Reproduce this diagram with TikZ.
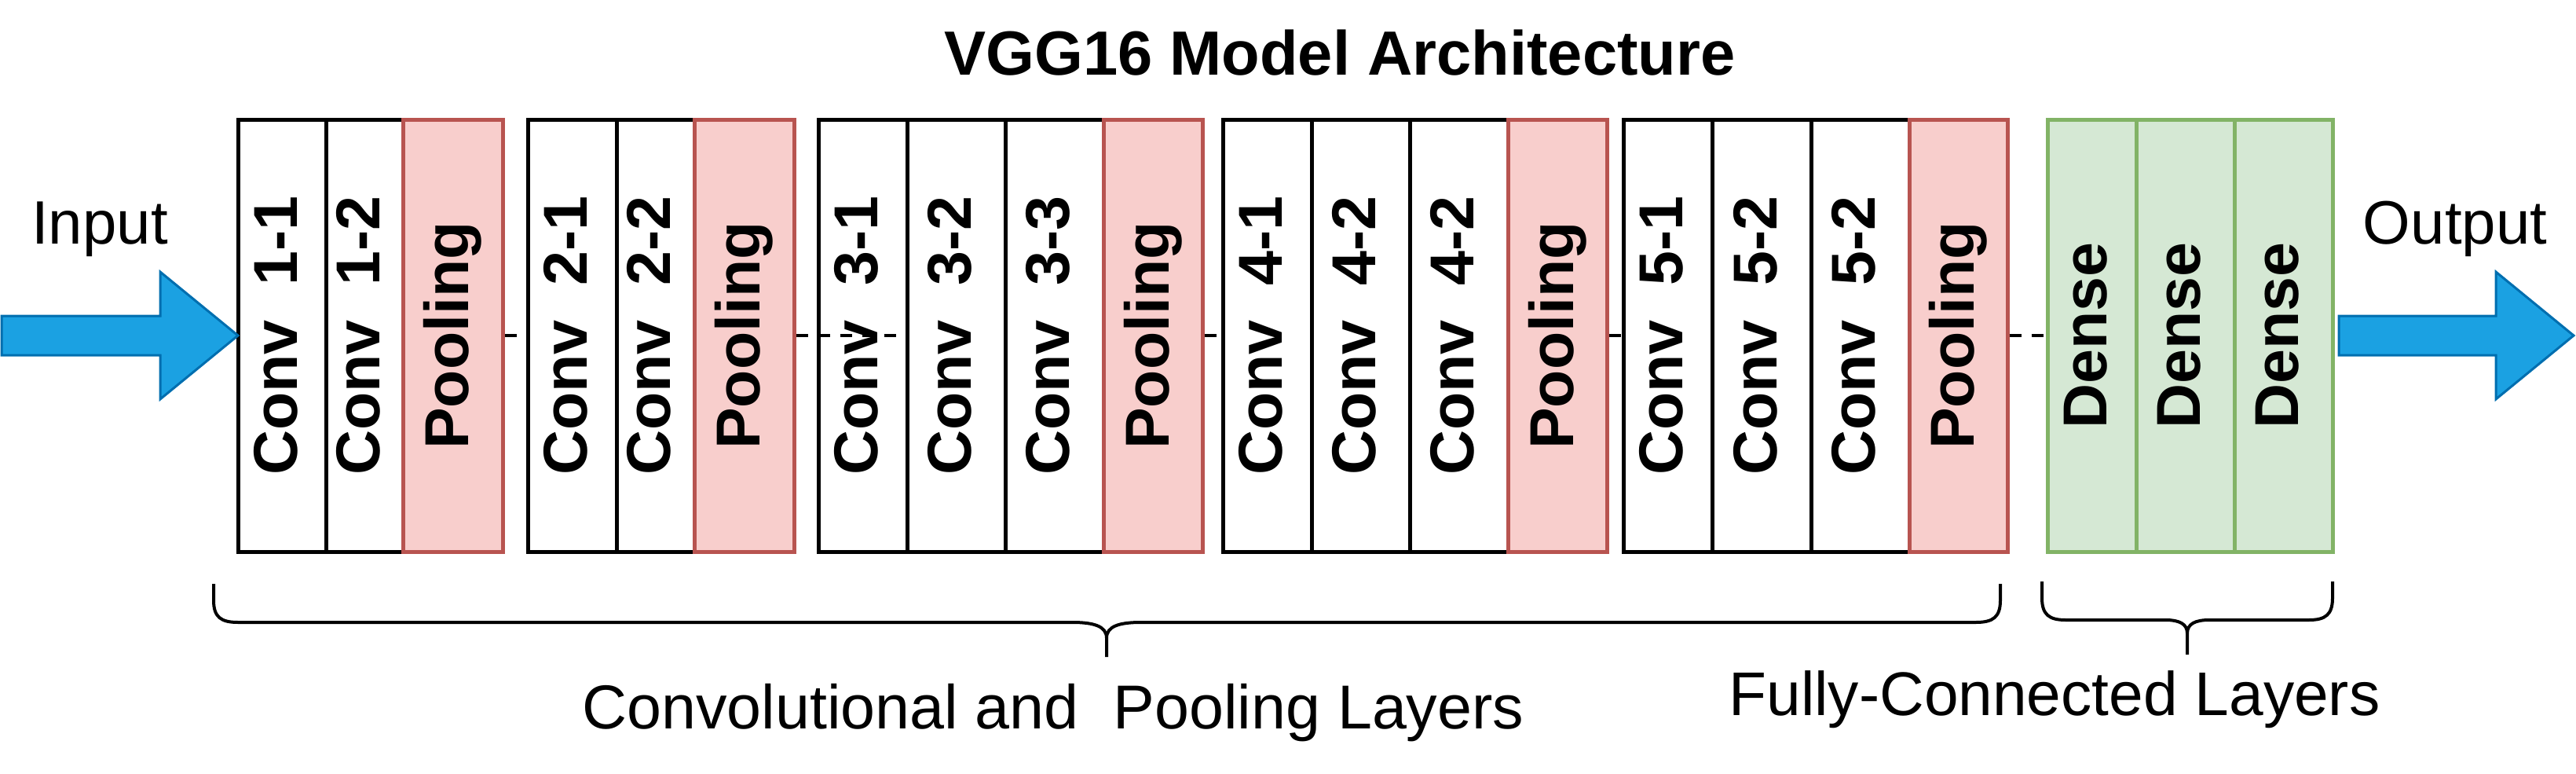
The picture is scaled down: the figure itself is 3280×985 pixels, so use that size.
\documentclass[tikz,border=0pt]{standalone}
\usepackage{fontspec}
\setmainfont{Liberation Sans}
\usepackage{graphicx}
\definecolor{poolfill}{HTML}{F8CECC}
\definecolor{pooldraw}{HTML}{B85450}
\definecolor{densefill}{HTML}{D5E8D4}
\definecolor{densedraw}{HTML}{82B366}
\definecolor{arrowfill}{HTML}{1BA1E2}
\definecolor{arrowdraw}{HTML}{006EAF}
\newcommand\celltxt[1]{\rotatebox{90}{\vphantom{Pg}#1}}
\begin{document}
\begin{tikzpicture}[x=1pt,y=-1pt,
  cell/.style={draw=black, line width=5pt, fill=white, minimum height=550pt,
    inner sep=0pt, font=\bfseries\fontsize{79}{79}\selectfont},
  poolcell/.style={cell, draw=pooldraw, fill=poolfill},
  densecell/.style={cell, draw=densedraw, fill=densefill},
  conn/.style={draw=black, line width=4pt, dash pattern=on 15pt off 13pt},
  bigarrow/.style={draw=arrowdraw, fill=arrowfill, line width=3pt, line join=miter},
  brace/.style={draw=black, line width=4pt},
  lbl/.style={anchor=base, inner sep=0pt, font=\fontsize{79}{79}\selectfont},
  ttl/.style={anchor=base, inner sep=0pt, font=\bfseries\fontsize{79.5}{80}\selectfont}]
\useasboundingbox (0,0) rectangle (3280,985);

% title
\node[ttl] (title) at (1706,95) {VGG16 Model Architecture};

% block 1
\node[cell, minimum width=112pt] (c11) at (359,427) {\celltxt{Conv\ \ 1-1}};
\node[cell, minimum width=98pt] (c12) at (464,427) {\celltxt{Conv\ \ 1-2}};
\node[poolcell, minimum width=127pt] (p1) at (576.5,427) {\celltxt{Pooling}};
% block 2
\node[cell, minimum width=113pt] (c21) at (728.5,427) {\celltxt{Conv\ \ 2-1}};
\node[cell, minimum width=99pt] (c22) at (834.5,427) {\celltxt{Conv\ \ 2-2}};
\node[poolcell, minimum width=127pt] (p2) at (947.5,427) {\celltxt{Pooling}};
% block 3
\node[cell, minimum width=113pt] (c31) at (1098.5,427) {\celltxt{Conv\ \ 3-1}};
\node[cell, minimum width=125pt] (c32) at (1217.5,427) {\celltxt{Conv\ \ 3-2}};
\node[cell, minimum width=125pt] (c33) at (1342.5,427) {\celltxt{Conv\ \ 3-3}};
\node[poolcell, minimum width=126pt] (p3) at (1468,427) {\celltxt{Pooling}};
% block 4
\node[cell, minimum width=113pt] (c41) at (1613.5,427) {\celltxt{Conv\ \ 4-1}};
\node[cell, minimum width=125pt] (c42) at (1732.5,427) {\celltxt{Conv\ \ 4-2}};
\node[cell, minimum width=125pt] (c43) at (1857.5,427) {\celltxt{Conv\ \ 4-2}};
\node[poolcell, minimum width=126pt] (p4) at (1983,427) {\celltxt{Pooling}};
% block 5
\node[cell, minimum width=113pt] (c51) at (2123.5,427) {\celltxt{Conv\ \ 5-1}};
\node[cell, minimum width=126pt] (c52) at (2243,427) {\celltxt{Conv\ \ 5-2}};
\node[cell, minimum width=125pt] (c53) at (2368.5,427) {\celltxt{Conv\ \ 5-2}};
\node[poolcell, minimum width=125pt] (p5) at (2493.5,427) {\celltxt{Pooling}};
% dense
\node[densecell, minimum width=113pt] (d1) at (2663.5,427) {\celltxt{Dense}};
\node[densecell, minimum width=125pt] (d2) at (2782.5,427) {\celltxt{Dense}};
\node[densecell, minimum width=125pt] (d3) at (2907.5,427) {\celltxt{Dense}};

% connectors
\draw[conn] (p1.east) -- (c21.west);
\draw[conn] (p2.east) -- (c31.east);
\draw[conn] (p3.east) -- (c41.west);
\draw[conn] (p4.east) -- (c51.west);
\draw[conn] (p5.east) -- (d1.west);

% input / output arrows
\draw[bigarrow] (2,402) -- (204,402) -- (204,346) -- (303,427) -- (204,508) -- (204,452) -- (2,452) -- cycle;
\draw[bigarrow] (2978,402) -- (3178,402) -- (3178,346) -- (3277,427) -- (3178,508) -- (3178,452) -- (2978,452) -- cycle;
\node[lbl, font=\fontsize{78}{78}\selectfont] (input) at (127,310) {Input};
\node[lbl, font=\fontsize{78}{78}\selectfont] (output) at (3126,310) {Output};

% braces
\draw[brace] (272,743) -- (272,764) .. controls (272,785) and (281,792) .. (303,792)
  -- (1365,792) .. controls (1393,792) and (1409,797) .. (1409,812) -- (1409,836);
\draw[brace] (1409,812) .. controls (1409,797) and (1425,792) .. (1453,792)
  -- (2516,792) .. controls (2538,792) and (2547,785) .. (2547,764) -- (2547,743);
\draw[brace] (2600,740) -- (2600,761) .. controls (2600,782) and (2609,789) .. (2630,789)
  -- (2757,789) .. controls (2775,789) and (2785,794) .. (2785,806) -- (2785,833);
\draw[brace] (2785,806) .. controls (2785,794) and (2795,789) .. (2813,789)
  -- (2940,789) .. controls (2961,789) and (2970,782) .. (2970,761) -- (2970,740);

% labels
\node[lbl] (convlbl) at (1341,927) {Convolutional and\ \ Pooling Layers};
\node[lbl, font=\fontsize{78.5}{79}\selectfont] (fclbl) at (2616,910) {Fully-Connected Layers};
\end{tikzpicture}
\end{document}
